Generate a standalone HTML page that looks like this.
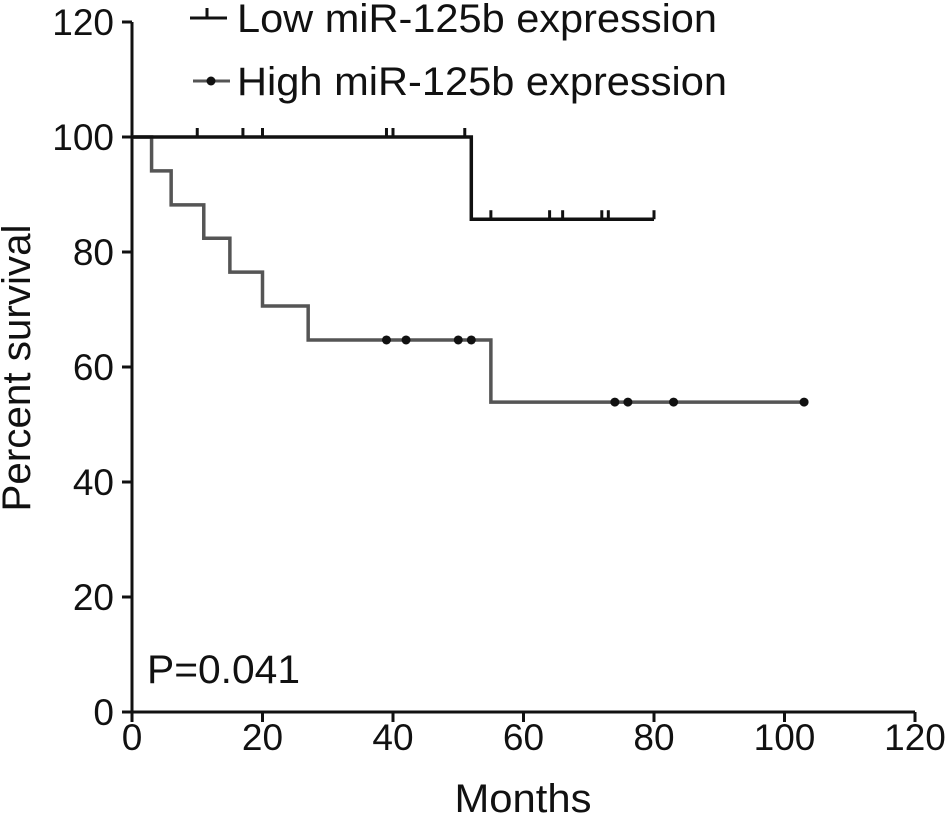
<!DOCTYPE html>
<html><head><meta charset="utf-8"><style>
body{margin:0;background:#fff}
text{font-family:"Liberation Sans",Arial,sans-serif;fill:#111}
</style></head><body>
<svg id="chart" width="949" height="815" viewBox="0 0 949 815">
<g id="axes"></g><g id="series"></g>
<g>
<g>
<line x1="190" y1="18" x2="227" y2="18" stroke="#111" stroke-width="3"/><line x1="207" y1="8" x2="207" y2="18" stroke="#111" stroke-width="3"/>
<text x="237" y="32" font-size="40" textLength="480" lengthAdjust="spacingAndGlyphs">Low miR-125b expression</text></g>
<g>
<line x1="193" y1="81" x2="230" y2="81" stroke="#555" stroke-width="3"/><circle cx="211" cy="81" r="4.5" fill="#111"/>
<text x="237" y="95" font-size="40" textLength="490" lengthAdjust="spacingAndGlyphs">High miR-125b expression</text></g>
</g>
<text x="147" y="683" font-size="40" textLength="153" lengthAdjust="spacingAndGlyphs">P=0.041</text>
<text x="523" y="812" font-size="40" text-anchor="middle" textLength="137" lengthAdjust="spacingAndGlyphs">Months</text>
<text transform="translate(30,368) rotate(-90)" font-size="40" text-anchor="middle" textLength="287" lengthAdjust="spacingAndGlyphs">Percent survival</text>
</svg>
<script>
const xTicks=[0,20,40,60,80,100,120];
const yTicks=[0,20,40,60,80,100,120];
const lowTimes=[0,52,80];
const lowSurv=[100,85.7,85.7];
const lowCensor=[10,17,20,39,40,51,55,64,66,72,73,80];
const highTimes=[0,3,6,11,15,20,27,55,103];
const highSurv=[100,94.1,88.2,82.4,76.5,70.6,64.7,53.9,53.9];
const highCensor=[39,42,50,52,74,76,83,103];
const NS="http://www.w3.org/2000/svg";
const X=v=>132+v*(915-132)/120;
const Y=v=>712-v*(712-22)/120;
function mk(t,a,p){const e=document.createElementNS(NS,t);for(const k in a)e.setAttribute(k,a[k]);p.appendChild(e);return e;}
const ax=document.getElementById('axes'),se=document.getElementById('series');
let l=mk('line',{x1:X(0),y1:Y(0),x2:X(120),y2:Y(0),stroke:'#111','stroke-width':3},ax);


l=mk('line',{x1:X(0),y1:Y(0),x2:X(0),y2:Y(120),stroke:'#111','stroke-width':3},ax);


xTicks.forEach(v=>{mk('line',{x1:X(v),y1:712,x2:X(v),y2:722,stroke:'#111','stroke-width':3},ax);
const t=mk('text',{x:X(v),y:750,'font-size':37,'text-anchor':'middle'},ax);t.textContent=v;

});
yTicks.forEach(v=>{mk('line',{x1:122,y1:Y(v),x2:132,y2:Y(v),stroke:'#111','stroke-width':3},ax);
const t=mk('text',{x:114,y:Y(v)+13,'font-size':37,'text-anchor':'end'},ax);t.textContent=v;

});
function step(T,S){let d='M'+X(T[0])+','+Y(S[0]);for(let i=1;i<T.length;i++){d+='H'+X(T[i])+'V'+Y(S[i]);}return d;}
function survAt(T,S,t){let s=S[0];for(let i=0;i<T.length;i++)if(T[i]<=t)s=S[i];return s;}
let p=mk('path',{d:step(highTimes,highSurv),fill:'none',stroke:'#555','stroke-width':3.5},se);


p=mk('path',{d:step(lowTimes,lowSurv),fill:'none',stroke:'#111','stroke-width':3.5},se);


lowCensor.forEach(t=>{const y=Y(survAt(lowTimes,lowSurv,t));const c=mk('line',{x1:X(t),y1:y-9,x2:X(t),y2:y,stroke:'#111','stroke-width':3},se);

});
highCensor.forEach(t=>{const c=mk('circle',{cx:X(t),cy:Y(survAt(highTimes,highSurv,t)),r:4.5,fill:'#111'},se);

});
</script>
</body></html>
